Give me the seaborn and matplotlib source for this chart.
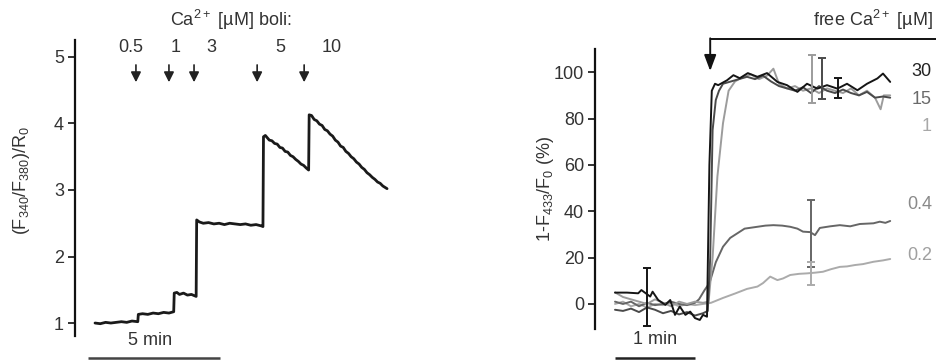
import matplotlib
matplotlib.use("Agg")
import matplotlib.pyplot as plt
import numpy as np
import pandas as pd
import seaborn as sns

# ---------------- left panel: fura-2 ratio trace with Ca2+ boli ----------------
ratio_time = [0.0, 0.2, 0.4, 0.6, 0.8, 1.0, 1.2, 1.4, 1.62,
              1.64, 1.8, 2.0, 2.2, 2.4, 2.6, 2.8, 2.98,
              3.00, 3.1, 3.2, 3.35, 3.5, 3.65, 3.83,
              3.85, 3.95, 4.1, 4.3, 4.5, 4.7, 4.9, 5.1, 5.3, 5.5, 5.7, 5.9, 6.1, 6.3, 6.36,
              6.38, 6.45, 6.6, 6.7, 6.8, 6.9, 7.0, 7.1, 7.2, 7.3, 7.4, 7.5, 7.6, 7.7, 7.8, 7.9, 8.0, 8.09,
              8.11, 8.2, 8.3, 8.4, 8.5, 8.6, 8.7, 8.8, 8.9, 9.0, 9.1, 9.2, 9.3, 9.4, 9.5, 9.6, 9.7,
              9.8, 9.9, 10.0, 10.1, 10.2, 10.3, 10.4, 10.5, 10.6, 10.7, 10.8, 10.9, 11.06]
ratio_value = [1.00, 0.99, 1.01, 1.00, 1.01, 1.02, 1.01, 1.03, 1.02,
               1.13, 1.14, 1.13, 1.15, 1.14, 1.16, 1.15, 1.17,
               1.45, 1.46, 1.43, 1.45, 1.42, 1.43, 1.40,
               2.55, 2.52, 2.50, 2.51, 2.49, 2.50, 2.48, 2.50, 2.49, 2.48, 2.49, 2.47, 2.48, 2.46, 2.45,
               3.80, 3.82, 3.75, 3.74, 3.70, 3.69, 3.64, 3.63, 3.58, 3.57, 3.52, 3.50, 3.46, 3.43, 3.39, 3.37, 3.33, 3.30,
               4.13, 4.12, 4.06, 4.04, 3.99, 3.97, 3.91, 3.89, 3.84, 3.81, 3.75, 3.72, 3.66, 3.64, 3.58, 3.55, 3.50,
               3.47, 3.42, 3.39, 3.34, 3.31, 3.26, 3.23, 3.19, 3.16, 3.12, 3.10, 3.06, 3.02]

bolus_time = [1.55, 2.80, 3.75, 6.14, 7.92]
bolus_label = ["0.5", "1", "3", "5", "10"]
bolus_label_time = [1.36, 3.07, 4.39, 7.01, 8.98]
ratio_ticks = [1, 2, 3, 4, 5]

# ---------------- right panel: 1-F433/F0 traces for free Ca2+ ----------------
free_ca = ["30", "15", "1", "0.4", "0.2"]

t_30 = [0.0, 0.15, 0.29, 0.33, 0.44, 0.47, 0.54, 0.63, 0.69, 0.75, 0.81, 0.88, 0.94, 1.00, 1.06, 1.10, 1.15,
        1.18, 1.21, 1.25, 1.29, 1.40, 1.48, 1.56, 1.66, 1.78, 1.90, 2.03, 2.15, 2.28, 2.40, 2.53, 2.65,
        2.78, 2.90, 3.03, 3.15, 3.28, 3.35, 3.44]
v_30 = [4.9, 4.9, 4.6, 6.0, 3.2, 5.3, 1.7, -0.4, 1.7, -4.7, -1.1, -4.7, -3.3, -6.1, -6.9, -4.7, -5.5,
        60.0, 92.0, 95.0, 94.4, 96.5, 98.7, 97.4, 99.6, 98.0, 99.6, 95.8, 94.4, 91.5, 95.0, 92.9, 94.4,
        92.9, 95.0, 92.2, 95.0, 97.3, 99.4, 95.8]

t_15 = [0.0, 0.1, 0.2, 0.3, 0.4, 0.5, 0.6, 0.7, 0.8, 0.9, 1.0, 1.1, 1.16,
        1.19, 1.22, 1.26, 1.30, 1.35, 1.45, 1.55, 1.65, 1.75, 1.85, 1.95, 2.05, 2.15, 2.25,
        2.35, 2.45, 2.55, 2.65, 2.75, 2.85, 2.95, 3.05, 3.15, 3.25, 3.35, 3.44]
v_15 = [-2.5, -3.0, -2.0, -3.5, -1.5, -2.5, -4.0, -3.0, -4.5, -3.5, -5.0, -4.0, -3.0,
        20.0, 75.0, 88.0, 92.0, 95.0, 96.0, 97.0, 98.0, 97.0, 98.5, 96.0, 94.0, 93.0, 92.0,
        93.5, 91.0, 94.0, 92.0, 91.0, 92.5, 91.0, 90.0, 91.5, 89.0, 89.5, 89.0]

t_1 = [0.0, 0.1, 0.2, 0.3, 0.4, 0.5, 0.6, 0.7, 0.8, 0.9, 1.0, 1.1, 1.17,
       1.22, 1.28, 1.35, 1.42, 1.50, 1.60, 1.70, 1.80, 1.90, 1.98, 2.05, 2.15, 2.25, 2.35,
       2.45, 2.55, 2.65, 2.75, 2.85, 2.95, 3.05, 3.15, 3.25, 3.32, 3.36, 3.44]
v_1 = [5.0, 3.0, 2.0, 1.0, 0.0, 2.0, 0.5, -1.0, 1.0, 0.0, 1.0, 0.5, 1.0,
       20.0, 55.0, 78.0, 92.0, 96.0, 98.0, 99.0, 97.0, 98.5, 101.5, 95.0, 93.0, 94.0, 92.0,
       93.0, 91.0, 93.0, 92.0, 91.0, 93.0, 90.0, 92.0, 89.0, 84.0, 90.0, 90.0]

t_04 = [0.0, 0.1, 0.2, 0.3, 0.4, 0.5, 0.6, 0.7, 0.8, 0.9, 1.0, 1.05, 1.12, 1.16,
        1.19, 1.26, 1.35, 1.44, 1.53, 1.62, 1.78, 1.88, 1.98, 2.09, 2.19, 2.28, 2.35, 2.44,
        2.50, 2.56, 2.69, 2.81, 2.94, 3.06, 3.23, 3.31, 3.38, 3.44]
v_04 = [1.0, 0.0, 1.0, -1.0, 0.5, -0.5, 0.0, 1.0, 0.0, -0.5, 0.5, 2.0, 6.0, 8.0,
        10.0, 18.0, 24.7, 28.5, 30.5, 32.5, 33.3, 33.8, 34.0, 33.8, 33.3, 32.5, 31.2, 31.0,
        29.7, 32.8, 33.5, 34.0, 33.5, 34.5, 34.8, 35.5, 35.0, 35.8]

t_02 = [0.0, 0.1, 0.2, 0.3, 0.4, 0.5, 0.6, 0.7, 0.8, 0.9, 1.0, 1.1, 1.2,
        1.35, 1.50, 1.65, 1.78, 1.85, 1.94, 2.03, 2.10, 2.19, 2.30, 2.40, 2.50, 2.60,
        2.70, 2.81, 2.90, 3.00, 3.10, 3.23, 3.35, 3.44]
v_02 = [0.0, 1.0, -1.0, 0.0, -1.5, 0.0, -0.5, 0.5, -1.0, 0.0, -0.5, 0.0, 0.5,
        2.6, 4.5, 6.5, 7.5, 9.0, 11.8, 10.3, 11.0, 12.5, 13.0, 13.2, 13.5, 13.9,
        15.0, 16.0, 16.2, 16.8, 17.2, 18.2, 18.8, 19.4]

# error bars: series, time, lower, upper
err_series = ["30", "1", "15", "30", "0.4", "0.2"]
err_time = [0.40, 2.46, 2.59, 2.79, 2.45, 2.45]
err_low = [-9.5, 86.6, 88.6, 89.0, 16.0, 8.0]
err_high = [15.5, 107.5, 106.0, 97.5, 45.0, 18.0]

pct_ticks = [0, 20, 40, 60, 80, 100]

# ---------------- style ----------------
sns.set_theme(style="white")
plt.rcParams["font.family"] = ["Liberation Sans", "DejaVu Sans"]
plt.rcParams["mathtext.default"] = "regular"
plt.rcParams["axes.unicode_minus"] = False

TXT = "#333333"
FS = 13
line_col = {"30": "#151515", "15": "#4a4a4a", "1": "#9c9c9c", "0.4": "#666666", "0.2": "#ababab"}
label_col = {"30": "#222222", "15": "#6a6a6a", "1": "#a8a8a8", "0.4": "#8a8a8a", "0.2": "#a0a0a0"}
label_y = {"30": 100.4, "15": 88.4, "1": 76.7, "0.4": 42.7, "0.2": 21.1}

W, H = 936, 361
fig = plt.figure(figsize=(W / 100, H / 100), dpi=100)
fig.patch.set_facecolor("white")

ax1 = fig.add_axes([75 / W, 25 / H, 325 / W, 296 / H])
ax2 = fig.add_axes([595 / W, 32 / H, 341 / W, 280 / H])


def style_axis(ax):
    for side in ("top", "right", "bottom"):
        ax.spines[side].set_visible(False)
    ax.spines["left"].set_color("#111111")
    ax.spines["left"].set_linewidth(1.6)
    ax.set_facecolor("none")
    ax.tick_params(axis="y", which="major", direction="out", length=5, width=1.2,
                   color="#111111", labelsize=FS, labelcolor=TXT, pad=3, left=True)
    ax.tick_params(axis="x", bottom=False, labelbottom=False)
    ax.grid(False)
    ax.set_xlabel("")
    ax.set_ylabel("")


# ---- left panel ----
df_ratio = pd.DataFrame({"t": ratio_time, "ratio": ratio_value})
sns.lineplot(data=df_ratio, x="t", y="ratio", ax=ax1, color="#1a1a1a", lw=2.0,
             sort=False, estimator=None)
ax1.set_xlim(-0.758, 11.55)
ax1.set_ylim(0.805, 5.255)
ax1.set_yticks(ratio_ticks)
style_axis(ax1)

for tb in bolus_time:
    ax1.annotate("", xy=(tb, 4.62), xytext=(tb, 4.88),
                 arrowprops=dict(arrowstyle="-|>,head_length=0.5,head_width=0.25",
                                 color="#222222", lw=1.2, shrinkA=0, shrinkB=0))
for lab, tl in zip(bolus_label, bolus_label_time):
    ax1.text(tl, 5.135, lab, ha="center", va="center", fontsize=FS, color=TXT, clip_on=False)
ax1.text(5.15, 5.56, "Ca$^{2+}$ [µM] boli:", ha="center", va="center", fontsize=FS,
         color=TXT, clip_on=False)

# 5 min scale bar
ax1.plot([-0.25, 4.75], [0.47, 0.47], color="#444444", lw=1.8, clip_on=False,
         solid_capstyle="butt")
ax1.text(2.08, 0.73, "5 min", ha="center", va="center", fontsize=FS, color=TXT, clip_on=False)
ax1.text((22 - 75) / 325, (336 - 180) / 296, "(F$_{340}$/F$_{380}$)/R$_0$", rotation=90,
         ha="center", va="center", fontsize=FS, color=TXT, transform=ax1.transAxes)

# ---- right panel ----
times = {"30": t_30, "15": t_15, "1": t_1, "0.4": t_04, "0.2": t_02}
values = {"30": v_30, "15": v_15, "1": v_1, "0.4": v_04, "0.2": v_02}
frames = [pd.DataFrame({"t": times[c], "signal": values[c], "ca": c}) for c in free_ca]
df_sig = pd.concat(frames, ignore_index=True)

draw_order = ["0.2", "0.4", "1", "15", "30"]
sns.lineplot(data=df_sig, x="t", y="signal", hue="ca", hue_order=draw_order,
             palette=line_col, ax=ax2, lw=1.4, sort=False, estimator=None, legend=False)

for s, te, lo, hi in zip(err_series, err_time, err_low, err_high):
    mid = (lo + hi) / 2
    ax2.errorbar([te], [mid], yerr=[[mid - lo], [hi - mid]], fmt="none",
                 ecolor=line_col[s], elinewidth=1.4, capsize=3, capthick=1.4, zorder=5)

ax2.set_xlim(-0.25, 4.0125)
ax2.set_ylim(-10.8, 110)
ax2.set_yticks(pct_ticks)
style_axis(ax2)

for c in free_ca:
    ax2.text(3.96, label_y[c], c, ha="right", va="center", fontsize=FS,
             color=label_col[c], clip_on=False)

# application arrow
ax2.plot([1.19, 4.02], [114.1, 114.1], color="#111111", lw=1.4, clip_on=False,
         solid_capstyle="butt")
ax2.annotate("", xy=(1.19, 100.5), xytext=(1.19, 114.6),
             arrowprops=dict(arrowstyle="-|>,head_length=0.8,head_width=0.3",
                             color="#111111", lw=1.4, shrinkA=0, shrinkB=0),
             annotation_clip=False)
ax2.text(3.98, 122.4, "free Ca$^{2+}$ [µM]", ha="right", va="center", fontsize=FS,
         color=TXT, clip_on=False)

# 1 min scale bar
ax2.plot([0.0, 1.0], [-23.3, -23.3], color="#222222", lw=1.8, clip_on=False,
         solid_capstyle="butt")
ax2.text(0.5, -15.5, "1 min", ha="center", va="center", fontsize=FS, color=TXT, clip_on=False)
ax2.text((545 - 595) / 341, 0.5, "1-F$_{433}$/F$_0$ (%)", rotation=90,
         ha="center", va="center", fontsize=FS, color=TXT, transform=ax2.transAxes)

fig.savefig("out.png", dpi=100, facecolor="white")
